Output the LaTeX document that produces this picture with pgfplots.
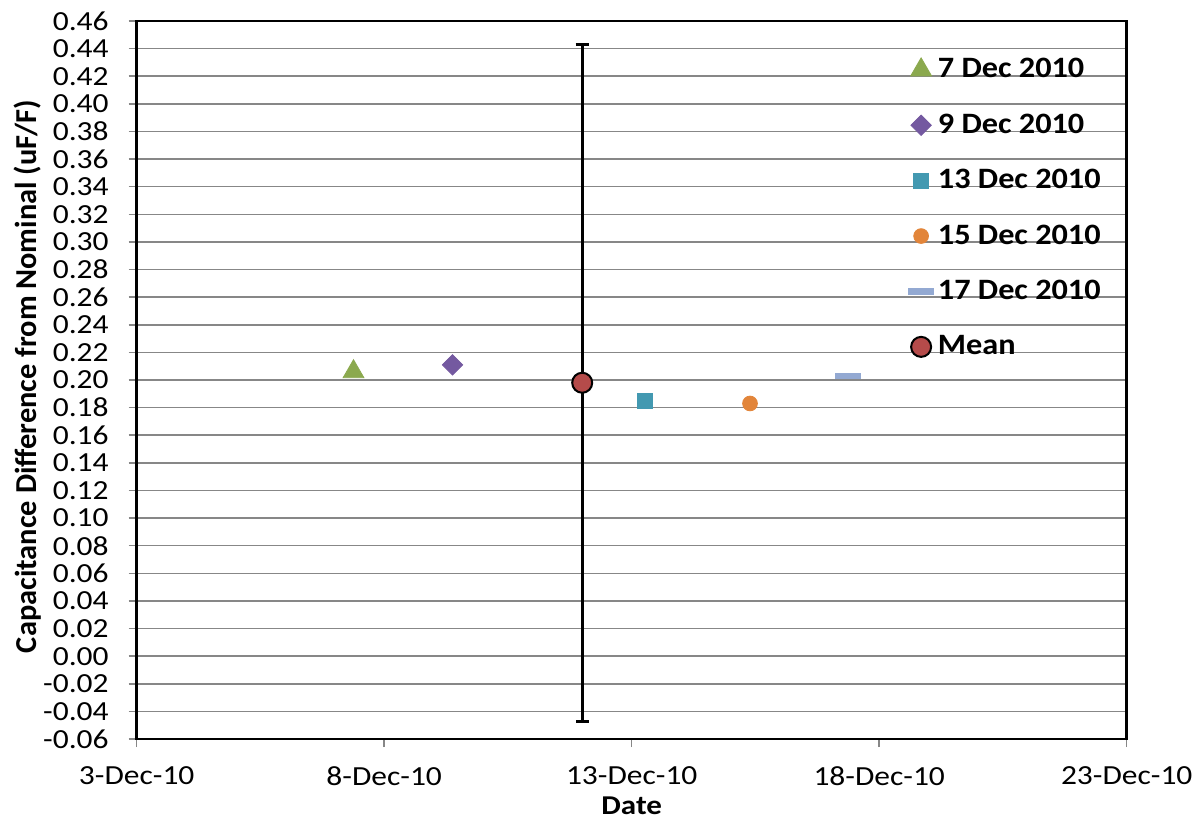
\documentclass[border=0pt]{standalone}
\usepackage{fontspec}
\setmainfont{Carlito}[FakeStretch=1.14]
\newfontfamily\ylabfont{Carlito}
\newfontfamily\legfont{Carlito}[FakeStretch=1.09]
\usepackage{pgfplots}
\pgfplotsset{compat=1.18}
\definecolor{cgreen}{HTML}{8BA94E}
\definecolor{cpurple}{HTML}{7459A0}
\definecolor{cteal}{HTML}{4399B1}
\definecolor{corange}{HTML}{E2853A}
\definecolor{cblue}{HTML}{93A9D2}
\definecolor{cred}{HTML}{B54B4A}
\definecolor{cgrid}{HTML}{878787}
\begin{document}
\begin{tikzpicture}
\begin{axis}[
  scale only axis, width=495pt, height=359pt,
  xmin=3, xmax=23, ymin=-0.06, ymax=0.46,
  xtick={3,8,13,18,23},
  xticklabels={3-Dec-10,8-Dec-10,13-Dec-10,18-Dec-10,23-Dec-10},
  ytick={-0.06,-0.04,-0.02,0,0.02,0.04,0.06,0.08,0.10,0.12,0.14,0.16,0.18,0.20,0.22,0.24,0.26,0.28,0.30,0.32,0.34,0.36,0.38,0.40,0.42,0.44,0.46},
  yticklabel style={xshift=-6.5pt, /pgf/number format/.cd, fixed, fixed zerofill, precision=2, assume math mode=true},
  xtick pos=lower, ytick pos=left,
  tick align=outside, major tick length=4pt,
  tick style={cgrid, line width=0.75pt},
  ymajorgrids, major grid style={cgrid, line width=0.75pt},
  axis line style={black, line width=1.3pt},
  tick label style={font=\fontsize{13.8}{15}\selectfont},
  xticklabel style={yshift=-6.5pt},
  xlabel={Date},
  ylabel={Capacitance Difference from Nominal (uF/F)},
  xlabel style={font=\bfseries\fontsize{13.6}{16}\selectfont, at={(axis description cs:0.5,-0.0935)}, anchor=center},
  ylabel style={font=\ylabfont\bfseries\fontsize{15.2}{18}\selectfont, at={(axis description cs:-0.1097,0.505)}, anchor=center},
  legend style={draw=none, fill=none, inner sep=0pt,
    at={(axis description cs:0.779,0.952)}, anchor=north west,
    font=\legfont\bfseries\fontsize{14.8}{18}\selectfont,
    row sep=13.7pt, column sep=2pt,
    nodes={inner sep=0pt, text height=11pt, text depth=3pt}},
  legend cell align=left,
  clip=false,
]
\addplot[only marks, mark=triangle*, mark size=6pt, color=cgreen] coordinates {(7.38,0.206)};
\addlegendentry{7 Dec 2010}
\addplot[only marks, mark=square*, mark size=3.6pt, color=cpurple, mark options={rotate=45}] coordinates {(9.38,0.211)};
\addlegendentry{9 Dec 2010}
\addplot[only marks, mark=square*, mark size=3.75pt, color=cteal] coordinates {(13.27,0.185)};
\addlegendentry{13 Dec 2010}
\addplot[only marks, mark=*, mark size=3.7pt, color=corange] coordinates {(15.39,0.183)};
\addlegendentry{15 Dec 2010}
\addplot[only marks, mark=-, mark size=6.4pt, color=cblue, mark options={line width=3.3pt}] coordinates {(17.37,0.203)};
\addlegendentry{17 Dec 2010}
\addplot[only marks, mark=*, mark size=5pt, mark options={fill=cred, draw=black, line width=1pt},
  error bars/.cd, y dir=both, y explicit,
  error bar style={black, line width=1.5pt},
  error mark options={black, line width=1.5pt, mark size=3.25pt, rotate=90}]
  coordinates {(12.0,0.198) +- (0,0.245)};
\addlegendentry{Mean}
\end{axis}
\pgfresetboundingbox
\path (-68.35pt,-40pt) rectangle (533.65pt,369.5pt);
\end{tikzpicture}
\end{document}
